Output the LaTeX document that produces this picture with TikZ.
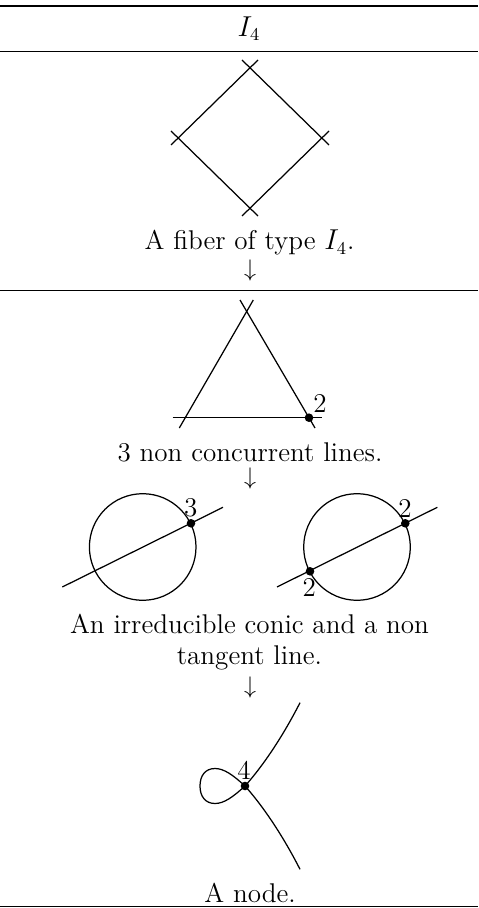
\documentclass[tikz,border=0pt]{standalone}
\tikzset{
  curve/.style={line width=0.62pt,line cap=butt},
  rulethin/.style={line width=0.5pt},
  rulethick/.style={line width=1pt},
  txt/.style={inner sep=0pt,anchor=base,font=\fontsize{13.55}{16}\selectfont},
  lab/.style={inner sep=0pt,font=\fontsize{13.55}{16}\selectfont},
  arrowmark/.style={inner sep=0pt,anchor=base,font=\fontsize{12.5}{15}\selectfont},
  pt/.style={circle,fill=black,inner sep=0pt,minimum size=4.3pt}
}
\begin{document}
\begin{tikzpicture}[x=0.5pt,y=-0.5pt]
\useasboundingbox (0,0) rectangle (478,908);
% table rules
\coordinate (r1a) at (0,6); \coordinate (r1b) at (478,6);
\coordinate (r2a) at (0,52); \coordinate (r2b) at (478,52);
\coordinate (r3a) at (0,291); \coordinate (r3b) at (478,291);
\coordinate (r4a) at (0,906); \coordinate (r4b) at (478,906);
\draw[rulethick] (r1a) -- (r1b);
\draw[rulethin] (r2a) -- (r2b);
\draw[rulethin] (r3a) -- (r3b);
\draw[rulethin] (r4a) -- (r4b);
\node[txt] (title) at (249,36.5) {$I_4$};
% diamond
\draw[curve] (242,60) -- (329,145);
\draw[curve] (258,60) -- (171,145);
\draw[curve] (171,131) -- (258,216);
\draw[curve] (329,131) -- (242,216);
\node[txt] (t1) at (249.5,250) {A fiber of type $I_4$.};
\node[arrowmark] (a1) at (250,277) {\smash{$\downarrow$}};
% triangle
\draw[curve] (253.3,300) -- (179.3,428);
\draw[curve] (240,300) -- (315,428);
\draw[curve] (172.7,417.7) -- (321.5,417.7);
\node[pt] (d1) at (309,417.7) {};
\node[lab] (l1) at (320,403) {2};
\node[txt] (t2) at (250,461) {3 non concurrent lines.};
\node[arrowmark] (a2) at (250,484.5) {\smash{$\downarrow$}};
% conic, left
\draw[curve] (142.7,547) circle[radius=53.3];
\draw[curve] (62.3,587) -- (223,507.3);
\node[pt] (d2) at (191,523.3) {};
\node[lab] (l2) at (190.7,508) {3};
% conic, right
\draw[curve] (357,547) circle[radius=53.3];
\draw[curve] (277,587) -- (437.3,507.3);
\node[pt] (d3) at (405.3,523.3) {};
\node[pt] (d4) at (310,571.3) {};
\node[lab] (l3) at (405,508) {2};
\node[lab] (l4) at (309.3,587.7) {2};
\node[txt] (t3) at (249.5,633) {An irreducible conic and a non};
\node[txt] (t4) at (249.5,664) {tangent line.};
\node[arrowmark] (a3) at (250,693.5) {\smash{$\downarrow$}};
% node
\coordinate (p) at (245,786);
\coordinate (up) at (300,702.7);
\coordinate (dn) at (300,869.3);
\draw[curve] (up) .. controls (282,738) and (262,767) .. (p)
  .. controls (233,797) and (224,803.5) .. (215,803.5)
  .. controls (205,803.5) and (200,796) .. (200,786)
  .. controls (200,776) and (205,768.5) .. (215,768.5)
  .. controls (224,768.5) and (233,775) .. (p)
  .. controls (262,805) and (282,834) .. (dn);
\node[pt] (d5) at (p) {};
\node[lab] (l5) at (244,770) {4};
\node[txt] (t5) at (250,902) {A node.};
\end{tikzpicture}
\end{document}
